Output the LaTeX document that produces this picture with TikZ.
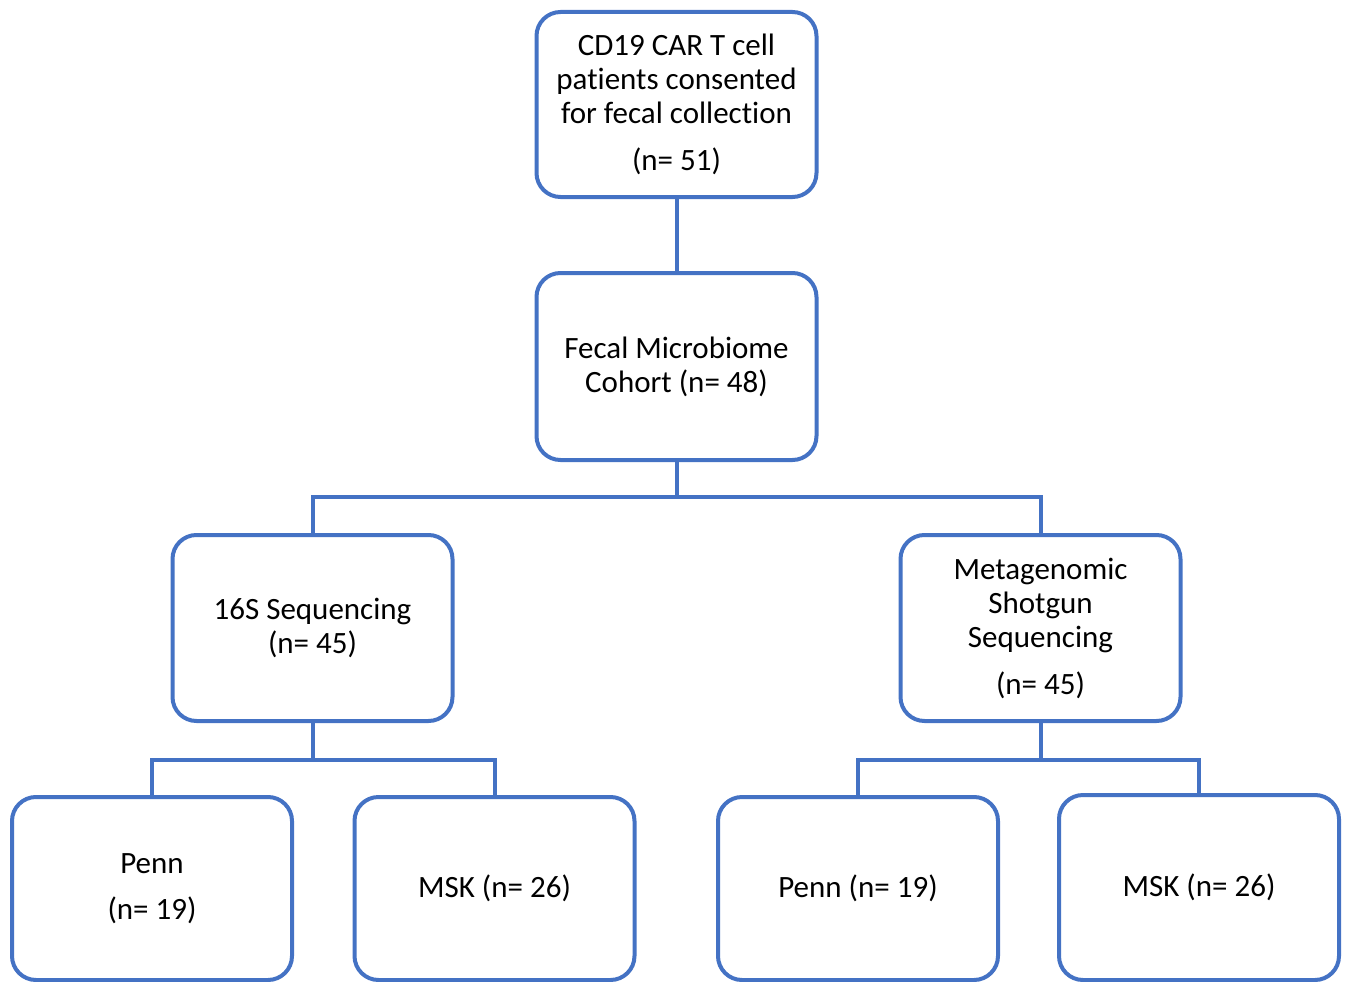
\documentclass[tikz,border=0pt]{standalone}
\usepackage{fontspec}
\setmainfont{Carlito}[RawFeature=-liga]
\definecolor{boxblue}{RGB}{68,114,196}
\tikzset{
  box/.style={draw=boxblue, line width=4pt, rounded corners=24pt, fill=white,
    minimum width=280pt, align=center, inner sep=0pt,
    font=\fontsize{31}{34}\selectfont},
  conn/.style={draw=boxblue, line width=4pt}
}
\begin{document}
\begin{tikzpicture}[x=1pt,y=-1pt]
\useasboundingbox (0,0) rectangle (1347,982);
\node[box, minimum height=185pt] (top) at (676.5,104.5) {CD19 CAR T cell\\patients consented\\for fecal collection\\[13pt](n= 51)};
\node[box, minimum height=187pt] (fecal) at (676.5,366.5) {Fecal Microbiome\\Cohort (n= 48)};
\node[box, minimum height=186pt] (s16) at (312.5,628) {16S Sequencing\\(n= 45)};
\node[box, minimum height=186pt] (meta) at (1040.5,628) {Metagenomic\\Shotgun\\Sequencing\\[13pt](n= 45)};
\node[box, minimum height=183pt] (penn1) at (152,888.5) {Penn\\[12pt](n= 19)};
\node[box, minimum height=183pt] (msk1) at (494.5,888.5) {MSK (n= 26)};
\node[box, minimum height=183pt] (penn2) at (858,888.5) {Penn (n= 19)};
\node[box, minimum height=185pt] (msk2) at (1199,887.5) {MSK (n= 26)};
\coordinate (j1) at (676.5,497);
\coordinate (j2) at (312.5,760);
\coordinate (j3) at (1040.5,760);
\draw[conn] (top.south) -- (fecal.north);
\draw[conn] (fecal.south) -- (j1);
\draw[conn] (s16.north) |- (j1) -| (meta.north);
\draw[conn] (s16.south) -- (j2);
\draw[conn] (penn1.north) |- (j2) -| (msk1.north);
\draw[conn] (meta.south) -- (j3);
\draw[conn] (penn2.north) |- (j3) -| (msk2.north);
\end{tikzpicture}
\end{document}
